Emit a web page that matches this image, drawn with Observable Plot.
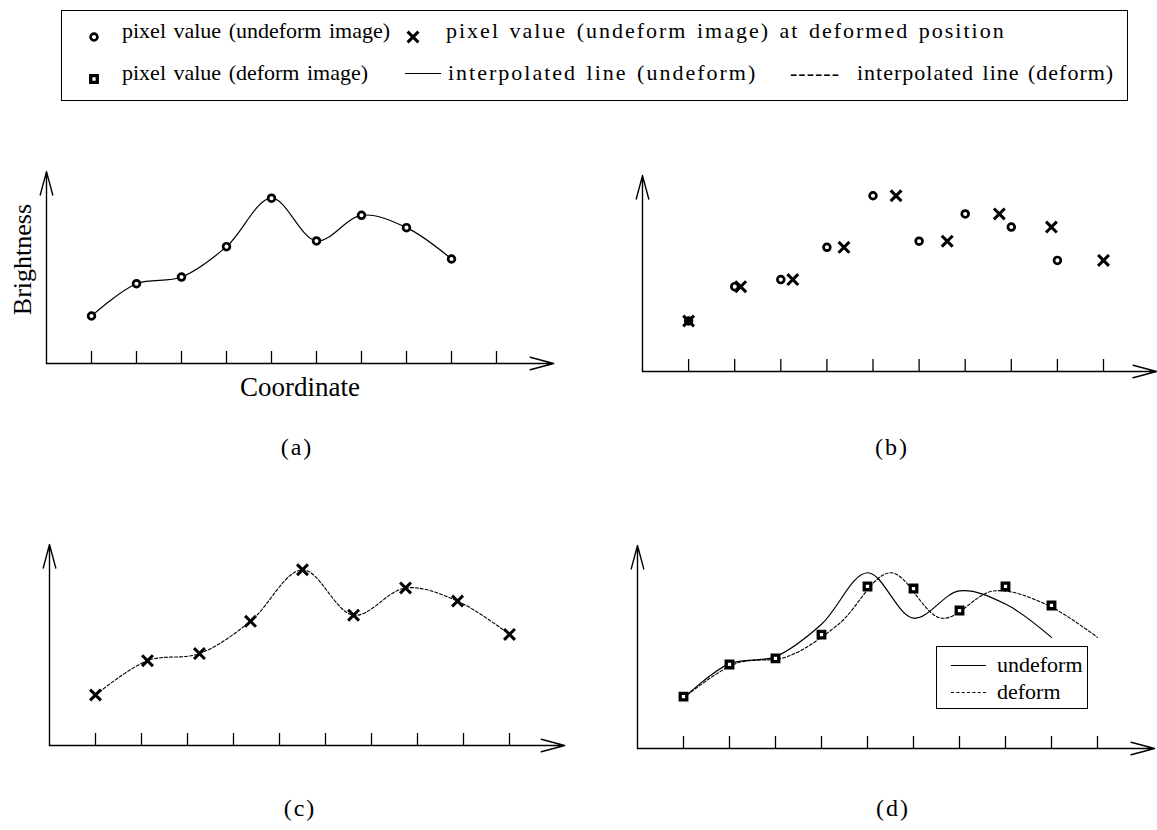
<!DOCTYPE html>
<html>
<head>
<meta charset="utf-8">
<script src="https://cdn.jsdelivr.net/npm/d3@7"></script>
<script src="https://cdn.jsdelivr.net/npm/@observablehq/plot@0.6"></script>
<style>
  body { margin: 0; background: #fff; }
  #fig { position: relative; width: 1157px; height: 830px; font-family: "Liberation Serif", "Times New Roman", serif; color: #000; overflow: hidden; }
  .abs { position: absolute; white-space: nowrap; line-height: 26px; }
  .legend { left: 61px; top: 10px; width: 1065px; height: 89px; border: 1.5px solid #000; }
  .lg { font-size: 22px; word-spacing: 2px; }
  .cap { font-size: 24px; letter-spacing: 2px; transform: translateX(-50%); }
  .dleg { left: 936px; top: 646px; width: 150px; height: 61px; border: 1.5px solid #000; background: #fff; }
  .dl { font-size: 22px; }
</style>
</head>
<body>
<div id="fig"></div>
<script>
// Sample positions along the coordinate axis and the brightness read at each one
const pixelIndex = [1, 2, 3, 4, 5, 6, 7, 8, 9];
const brightness = [2.5, 4.2, 4.55, 6.15, 8.7, 6.45, 7.8, 7.15, 5.5];
// Where each undeformed sample lands after deformation
const deformedPosition = [1, 2.13, 3.26, 4.37, 5.5, 6.61, 7.74, 8.87, 10];
// Brightness of the deformed image sampled back on the pixel grid
const deformBrightness = [2.57, 4.16, 4.46, 5.64, 8.02, 7.92, 6.83, 8.02, 7.08];
// Tick marks along the coordinate axis
const tickPositions = [1, 2, 3, 4, 5, 6, 7, 8, 9, 10];

const undeformRows = pixelIndex.map((p, i) => ({pos: p, value: brightness[i]}));
const shiftedRows = deformedPosition.map((p, i) => ({pos: p, value: brightness[i]}));
const deformRows = pixelIndex.map((p, i) => ({pos: p, value: deformBrightness[i]}));

const fig = document.getElementById("fig");
const FONT = "'Liberation Serif', 'Times New Roman', serif";

// Frame of each sub-plot: origin in page pixels, pixels per unit, arrow tips in data units
const frames = {
  a: {x0: 46, ux: 45, y0: 363, uy: 19, xTip: 11.27, yTip: 10.1, left: 0, top: 130, width: 580, height: 300},
  b: {x0: 642, ux: 46.1, y0: 371, uy: 20.2, xTip: 11.15, yTip: 9.7, left: 580, top: 130, width: 577, height: 300},
  c: {x0: 49, ux: 46, y0: 745, uy: 20.2, xTip: 11.2, yTip: 9.95, left: 0, top: 500, width: 580, height: 300},
  d: {x0: 637, ux: 46, y0: 748, uy: 20.2, xTip: 11.24, yTip: 10.05, left: 580, top: 500, width: 577, height: 300}
};

const SYM = {
  circle: {symbol: "circle", r: 3.4, stroke: "black", strokeWidth: 2.7, fill: "white"},
  cross: {symbol: "times", r: 5, stroke: "black", strokeWidth: 3},
  square: {symbol: "square", r: 3.7, stroke: "black", strokeWidth: 3.3, fill: "white"}
};

function axesMarks(f) {
  const axes = [
    {x1: 0, y1: 0, x2: f.xTip, y2: 0},
    {x1: 0, y1: 0, x2: 0, y2: f.yTip}
  ];
  return [
    Plot.arrow(axes, {x1: "x1", y1: "y1", x2: "x2", y2: "y2", stroke: "black", strokeWidth: 1.4, headLength: 26, headAngle: 30}),
    Plot.ruleX(tickPositions, {x: d => d, y1: 0, y2: 12 / f.uy, stroke: "black", strokeWidth: 1.3})
  ];
}

function panel(f, marks) {
  const svg = Plot.plot({
    width: f.width,
    height: f.height,
    marginLeft: f.x0 - f.left,
    marginRight: f.left + f.width - (f.x0 + f.xTip * f.ux),
    marginTop: (f.y0 - f.yTip * f.uy) - f.top,
    marginBottom: f.top + f.height - f.y0,
    x: {domain: [0, f.xTip], axis: null},
    y: {domain: [0, f.yTip], axis: null},
    style: {fontFamily: FONT, background: "transparent", overflow: "visible", color: "black"},
    marks: [...axesMarks(f), ...marks]
  });
  svg.style.position = "absolute";
  svg.style.left = f.left + "px";
  svg.style.top = f.top + "px";
  fig.appendChild(svg);
}

// (a) original samples with their interpolated curve
panel(frames.a, [
  Plot.line(undeformRows, {x: "pos", y: "value", curve: "catmull-rom", stroke: "black", strokeWidth: 1.2}),
  Plot.dot(undeformRows, {x: "pos", y: "value", ...SYM.circle}),
  Plot.text(["Brightness"], {frameAnchor: "left", textAnchor: "middle", dx: -24, dy: -8, rotate: -90, fontSize: 26, fontFamily: FONT, fill: "black"}),
  Plot.text(["Coordinate"], {frameAnchor: "bottom", dy: 32, fontSize: 27, fontFamily: FONT, fill: "black"})
]);

// (b) samples and the positions they move to
panel(frames.b, [
  Plot.dot(undeformRows, {x: "pos", y: "value", ...SYM.circle}),
  Plot.dot(shiftedRows, {x: "pos", y: "value", ...SYM.cross})
]);

// (c) moved samples with the deformed interpolation
panel(frames.c, [
  Plot.line(shiftedRows, {x: "pos", y: "value", curve: "catmull-rom", stroke: "black", strokeWidth: 1.1, strokeDasharray: "3,2"}),
  Plot.dot(shiftedRows, {x: "pos", y: "value", ...SYM.cross})
]);

// (d) both interpolations and the resampled deformed image
panel(frames.d, [
  Plot.line(undeformRows, {x: "pos", y: "value", curve: "catmull-rom", stroke: "black", strokeWidth: 1.2}),
  Plot.line(shiftedRows, {x: "pos", y: "value", curve: "catmull-rom", stroke: "black", strokeWidth: 1.1, strokeDasharray: "3,2"}),
  Plot.dot(deformRows, {x: "pos", y: "value", ...SYM.square})
]);

// Small marker glyphs for the HTML legend, drawn with the same d3 symbols
function glyph(kind) {
  const s = SYM[kind];
  const type = {circle: d3.symbolCircle, times: d3.symbolTimes, square: d3.symbolSquare}[s.symbol];
  const size = Math.PI * s.r * s.r;
  const path = d3.symbol(type, size)();
  return `<svg width="16" height="16" viewBox="-8 -8 16 16" style="vertical-align:middle"><path d="${path}" fill="${s.fill || "none"}" stroke="black" stroke-width="${s.strokeWidth}"/></svg>`;
}

const html = [];
html.push(`<div class="abs legend"></div>`);
html.push(`<div class="abs" style="left:86px;top:23px">${glyph("circle")}</div>`);
html.push(`<div class="abs lg" style="left:122px;top:18px">pixel value (undeform image)</div>`);
html.push(`<div class="abs" style="left:405px;top:23px">${glyph("cross")}</div>`);
html.push(`<div class="abs lg" style="left:446px;top:18px;letter-spacing:2px">pixel value (undeform image) at deformed position</div>`);
html.push(`<div class="abs" style="left:86px;top:65px">${glyph("square")}</div>`);
html.push(`<div class="abs lg" style="left:122px;top:60px">pixel value (deform image)</div>`);
html.push(`<div class="abs" style="left:405px;top:73px;width:36px;border-top:1.3px solid #000"></div>`);
html.push(`<div class="abs lg" style="left:448px;top:60px;letter-spacing:2px">interpolated line (undeform)</div>`);
html.push(`<div class="abs lg" style="left:790px;top:60px;letter-spacing:1px">------ &nbsp;interpolated line (deform)</div>`);

html.push(`<div class="abs cap" style="left:297px;top:434px">(a)</div>`);
html.push(`<div class="abs cap" style="left:892px;top:434px">(b)</div>`);
html.push(`<div class="abs cap" style="left:300px;top:795px">(c)</div>`);
html.push(`<div class="abs cap" style="left:893px;top:795px">(d)</div>`);

html.push(`<div class="abs dleg"></div>`);
html.push(`<div class="abs" style="left:951px;top:665px;width:35px;border-top:1.3px solid #000"></div>`);
html.push(`<div class="abs" style="left:951px;top:692px;width:35px;border-top:1.3px dashed #000"></div>`);
html.push(`<div class="abs dl" style="left:997px;top:652px">undeform</div>`);
html.push(`<div class="abs dl" style="left:997px;top:679px">deform</div>`);

fig.insertAdjacentHTML("beforeend", html.join(""));
</script>
</body>
</html>
